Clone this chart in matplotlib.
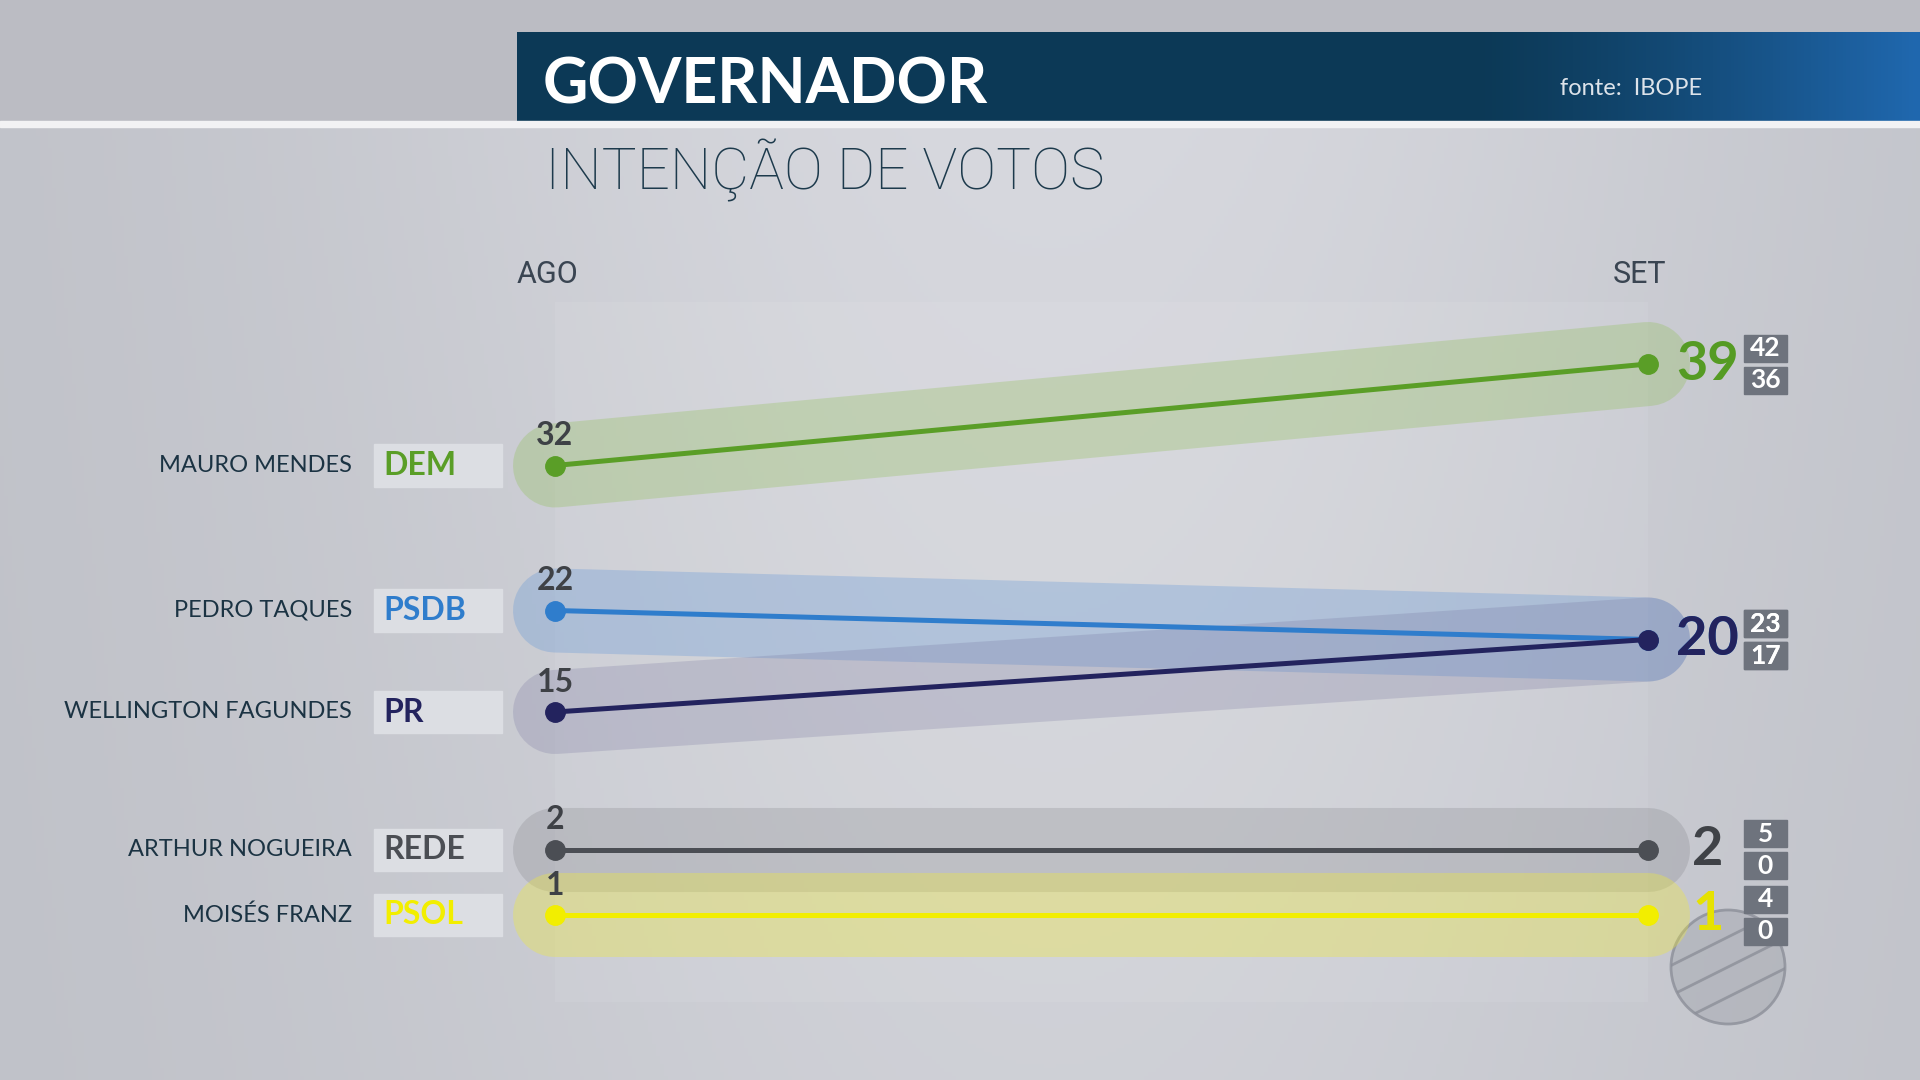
import numpy as np
import matplotlib.pyplot as plt
import matplotlib.patches as mpatches
import matplotlib.transforms as mtransforms

# data (IBOPE, governador MT)
candidates = ["MAURO MENDES", "PEDRO TAQUES", "WELLINGTON FAGUNDES", "ARTHUR NOGUEIRA", "MOISÉS FRANZ"]
parties = ["DEM", "PSDB", "PR", "REDE", "PSOL"]
periods = ["AGO", "SET"]
votes_ago = [32, 22, 15, 2, 1]
votes_set = [39, 20, 20, 2, 1]
margin_hi = [42, 23, 23, 5, 4]
margin_lo = [36, 17, 17, 0, 0]

colors = ["#5a9e27", "#2f7dcc", "#23235e", "#4b4e54", "#f2ee00"]
band_colors = ["#8fbf55", "#5f95d8", "#6c6a98", "#6a6b70", "#f0ea3a"]
band_alpha = [0.30, 0.30, 0.22, 0.20, 0.35]
value_colors = ["#559b23", "#2f7dcc", "#23235e", "#3f4247", "#e6e200"]

W, H = 1920, 1080
plt.rcParams["font.family"] = ["Lato", "DejaVu Sans"]

fig = plt.figure(figsize=(19.2, 10.8), dpi=100)

# background
bg = fig.add_axes([0, 0, 1, 1])
bg.set_xlim(0, W)
bg.set_ylim(H, 0)
bg.axis("off")
X, Y = np.meshgrid(np.linspace(0, W, 480), np.linspace(0, H, 270))
t = np.exp(-((X - 1050) / 750) ** 2) * (1 - 0.35 * (Y / H))
edge = np.array([190, 192, 199]) / 255
center = np.array([216, 217, 223]) / 255
img = edge + (center - edge) * t[..., None]
img[Y < 124] = np.array([187, 188, 195]) / 255
bg.imshow(img, extent=[0, W, H, 0], aspect="auto", zorder=0)

# header bar
hx = np.linspace(0, 1, 400)
ht = np.clip((hx - 0.68) / 0.32, 0, 1) ** 1.3
navy = np.array([12, 57, 86]) / 255
blue = np.array([32, 104, 175]) / 255
bar = navy + (blue - navy) * ht[:, None]
bg.imshow(bar[None, :, :], extent=[517, W, 121, 32], aspect="auto", zorder=1)
bg.add_patch(mpatches.Rectangle((0, 121), W, 6, color="#f2f2f4", zorder=2))

# station logo
logo = mpatches.Circle((1728, 967), 57, fc=(0.66, 0.67, 0.70, 0.55),
                       ec=(0.55, 0.56, 0.60, 0.8), lw=2, zorder=5)
bg.add_patch(logo)
for off in [-30, 0, 30]:
    (ln,) = bg.plot([1728 - 80, 1728 + 80], [967 + off + 40, 967 + off - 40],
                    color=(0.55, 0.56, 0.60, 0.8), lw=2, zorder=6)
    ln.set_clip_path(logo)

fig.text(543 / W, 1 - 104 / H, "GOVERNADOR", fontsize=45, weight="bold",
         color="white", ha="left", va="baseline")
fig.text(1560 / W, 1 - 95 / H, "fonte:  IBOPE", fontsize=17, color="#dde3ea",
         ha="left", va="baseline")
fig.text(545 / W, 1 - 190 / H, "INTENÇÃO DE VOTOS", fontsize=42, weight="light",
         family=["Roboto", "DejaVu Sans"], color="#1d3a4c", ha="left", va="baseline")

# main chart axes
ax = fig.add_axes([445.7 / W, 1 - 1002 / H, 1311.6 / W, 725 / H])
ax.set_xlim(-0.1, 1.1)
ax.set_ylim(-5, 45)
ax.axis("off")

ax.add_patch(mpatches.Rectangle((0, -5), 1, 48.3, color="white", alpha=0.07, lw=0))

for x, lab in zip([0, 1], periods):
    fig.text((555 + x * 1093 - 8) / W, 1 - 283 / H, lab, fontsize=22, weight="normal",
             family=["Roboto", "DejaVu Sans"], color="#3a4552", ha="center",
             va="baseline")

# push rows apart when AGO values are too close
MIN_GAP = 4.5
ago = np.array(votes_ago, dtype=float)
pos = ago.copy()
prev = -np.inf
for i in np.argsort(ago):
    if pos[i] < prev + MIN_GAP:
        pos[i] = prev + MIN_GAP
    prev = pos[i]
shift = pos - ago
y_ago = ago + shift
y_set = np.array(votes_set, dtype=float) + shift

for i in range(len(candidates)):
    ax.plot([0, 1], [y_ago[i], y_set[i]], lw=60.5, color=band_colors[i],
            alpha=band_alpha[i], solid_capstyle="round", zorder=2)

for i in range(len(candidates)):
    ax.plot([0, 1], [y_ago[i], y_set[i]], lw=3.6, color=colors[i], marker="o",
            ms=14, solid_capstyle="round", zorder=3)

trans_l = mtransforms.blended_transform_factory(fig.transFigure, ax.transData)
for i in range(len(candidates)):
    ax.annotate(str(votes_ago[i]), (0, y_ago[i]), xytext=(0, 11),
                textcoords="offset points", ha="center", va="bottom",
                fontsize=23, weight="bold", color="#3e4146", zorder=4)
    ax.annotate(str(votes_set[i]), (1, y_set[i]), xytext=(43, 0),
                textcoords="offset points", ha="center", va="center",
                fontsize=39, weight="bold", color=value_colors[i], zorder=4)

    trans = fig.dpi_scale_trans + mtransforms.ScaledTranslation(1, y_set[i], ax.transData)
    for val, yc in [(margin_hi[i], 0.16), (margin_lo[i], -0.16)]:
        ax.add_patch(mpatches.Rectangle((0.96, yc - 0.135), 0.43, 0.27,
                                        transform=trans, color="#6e737d",
                                        clip_on=False, zorder=4))
        ax.text(1.175, yc, str(val), transform=trans, ha="center", va="center",
                fontsize=19, weight="bold", color="white", clip_on=False, zorder=5)

    # left labels
    ax.text(352 / W, y_ago[i], candidates[i], transform=trans_l, ha="right",
            va="center", fontsize=17, color="#1b3343", clip_on=False)
    ax.add_patch(mpatches.Rectangle((374 / W, y_ago[i] - 1.45), 128 / W, 2.9,
                                    transform=trans_l, color="#dcdee3",
                                    clip_on=False, zorder=1))
    ax.text(383 / W, y_ago[i], parties[i], transform=trans_l, ha="left",
            va="center", fontsize=23, weight="bold", color=colors[i],
            clip_on=False, zorder=2)

fig.savefig("out.png", dpi=100)
